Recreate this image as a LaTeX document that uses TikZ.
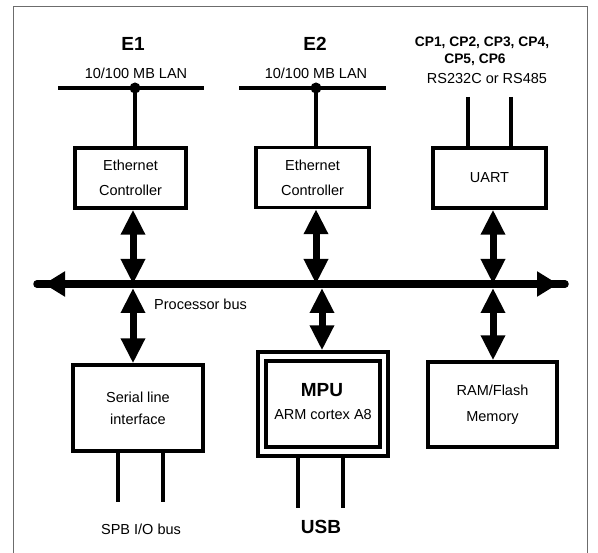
\documentclass[tikz,border=0pt]{standalone}
\usepackage{fontspec}
\setmainfont{Liberation Sans}
\usetikzlibrary{arrows.meta}
\tikzset{
  blk/.style={draw, line width=3.4pt, inner sep=0pt, align=center, font=\fontsize{14.5}{25}\selectfont},
  wire/.style={line width=3.2pt},
  lan/.style={line width=4.5pt},
  busline/.style={line width=7.5pt, line cap=round},
  bustips/.style={line width=7.5pt, {Triangle[length=21pt,width=24pt]}-{Triangle[length=21pt,width=24pt]}},
  link/.style={line width=7pt, {Triangle[length=25pt,width=23pt]}-{Triangle[length=25pt,width=23pt]}},
  lbl/.style={inner sep=0pt, font=\fontsize{14.5}{17}\selectfont},
  big/.style={inner sep=0pt, font=\fontsize{19}{22}\selectfont\bfseries},
  cp/.style={inner sep=0pt, font=\fontsize{13.8}{16}\selectfont\bfseries},
  dot/.style={circle, fill, inner sep=0pt, minimum size=11pt}
}
\begin{document}
\begin{tikzpicture}[x=1pt,y=-1pt]
\useasboundingbox (0,0) rectangle (598,553);
\draw[gray!85!black, line width=1pt] (13,553) -- (13,7) -- (587,7) -- (587,553);

% top labels
\node[big] (e1) at (133,44) {E1};
\node[big] (e2) at (315,44) {E2};
\node[lbl] (lan1) at (136,73) {10/100 MB LAN};
\node[lbl] (lan2) at (316,73) {10/100 MB LAN};
\node[cp] (cpa) at (482,43) {CP1, CP2, CP3, CP4,};
\node[cp] (cpb) at (475,60) {CP5, CP6};
\node[lbl] (rs) at (487,79) {RS232C or RS485};

% LAN lines
\coordinate (l1a) at (58,88);  \coordinate (l1b) at (204,88);
\coordinate (l2a) at (239,88); \coordinate (l2b) at (386,88);
\draw[lan] (l1a) -- (l1b);
\draw[lan] (l2a) -- (l2b);
\node[dot] (d1) at (135,88) {};
\node[dot] (d2) at (316,88) {};

% boxes
\node[blk, minimum width=111pt, minimum height=60pt] (eth1) at (130.5,178) {Ethernet\\Controller};
\node[blk, minimum width=113pt, minimum height=60pt] (eth2) at (312.5,177.5) {Ethernet\\Controller};
\node[blk, minimum width=113pt, minimum height=60pt] (uart) at (489.5,178) {UART};
\node[blk, minimum width=130pt, minimum height=86pt, font=\fontsize{14.5}{22}\selectfont] (serial) at (138,408) {Serial line\\interface};
\node[blk, minimum width=130pt, minimum height=104pt] (mpuout) at (323,404) {};
\node[blk, minimum width=114pt, minimum height=86pt] (mpu) at (323,404) {};
\node[big] (mputxt) at (322,390) {MPU};
\node[lbl] (armtxt) at (323,415) {ARM cortex A8};
\node[blk, minimum width=129pt, minimum height=85pt, font=\fontsize{14.5}{26}\selectfont] (ram) at (492.5,404.5) {RAM/Flash\\Memory};

% LAN drops
\draw[wire] (d1.center) -- (d1 |- eth1.north);
\draw[wire] (d2.center) -- (d2 |- eth2.north);

% UART lines
\coordinate (u1) at (468,97); \coordinate (u2) at (511,97);
\draw[wire] (u1) -- (u1 |- uart.north);
\draw[wire] (u2) -- (u2 |- uart.north);

% bus
\coordinate (busL) at (37,284); \coordinate (busR) at (565,284);
\coordinate (busLt) at (44,284); \coordinate (busRt) at (558,284);
\draw[busline] (busL) -- (busR);
\draw[bustips] (busLt) -- (busRt);
\node[lbl, anchor=west] (pbus) at (154,304) {Processor bus};

\coordinate (b1) at (133,284);
\coordinate (b2) at (316,284);
\coordinate (b3) at (493,284);
\coordinate (b4) at (322,284);
\coordinate (c1) at (133,288);
\coordinate (c4) at (322,288);
\coordinate (c3) at (493,288);
\draw[link] (b1 |- eth1.south) -- (b1);
\draw[link] (b2 |- eth2.south) -- (b2);
\draw[link] (b3 |- uart.south) -- (b3);
\draw[link] (c1) -- (c1 |- serial.north);
\draw[link] (c4) -- (c4 |- mpuout.north);
\draw[link] (c3) -- (c3 |- ram.north);

% bottom lines
\coordinate (s1) at (118,502); \coordinate (s2) at (163,502);
\draw[wire] (s1 |- serial.south) -- (s1);
\draw[wire] (s2 |- serial.south) -- (s2);
\coordinate (m1) at (298,508); \coordinate (m2) at (343,508);
\draw[wire] (m1 |- mpuout.south) -- (m1);
\draw[wire] (m2 |- mpuout.south) -- (m2);

\node[lbl] (spb) at (141,529) {SPB I/O bus};
\node[big] (usb) at (321,527) {USB};
\end{tikzpicture}
\end{document}
